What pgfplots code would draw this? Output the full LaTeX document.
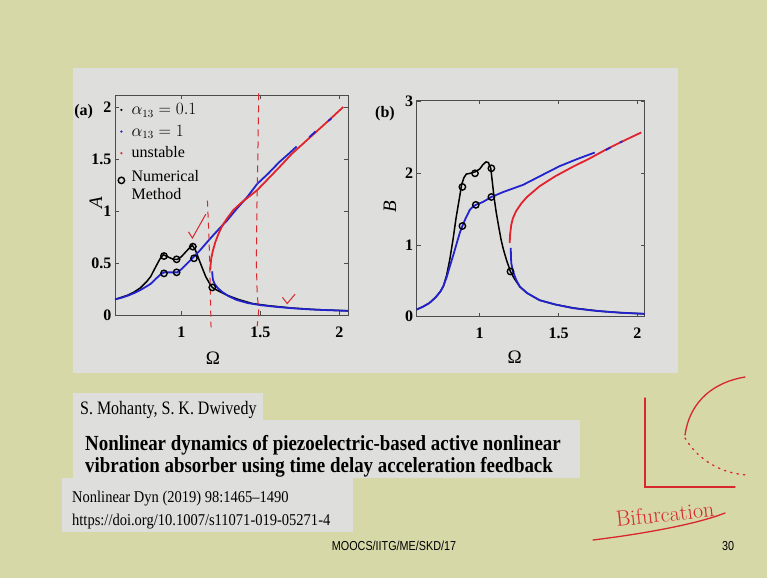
\documentclass[border=0pt]{standalone}
\usepackage{fontspec}
\setmainfont{Liberation Serif}
\newfontfamily\condserif[FakeStretch=0.88]{Liberation Serif}
\newfontfamily\authserif[FakeStretch=0.84]{Liberation Serif}
\newfontfamily\citeserif[FakeStretch=0.88]{Liberation Serif}
\newfontfamily\condsans[FakeStretch=0.83]{Liberation Sans}
\usepackage{pgfplots}
\pgfplotsset{compat=1.18}

\definecolor{slidebg}{RGB}{214,216,168}
\definecolor{panelgray}{RGB}{222,222,220}
\definecolor{curveblue}{RGB}{35,35,205}
\definecolor{curvered}{RGB}{225,35,45}
\definecolor{inkred}{RGB}{215,40,45}

\pgfplotsset{
  slideaxis/.style={
    scale only axis,
    axis line style={draw=black!70, line width=0.8pt},
    tick style={black!70, line width=0.8pt},
    major tick length=4pt,
    tick align=inside,
    tick pos=both,
    tick label style={font=\fontsize{16}{16}\selectfont\bfseries},
    xticklabel style={yshift=-8pt},
    /pgf/number format/assume math mode=true,
    label style={font=\fontsize{19}{19}\selectfont},
    clip=false,
  },
  blk/.style={black, line width=1.5pt, forget plot},
  blu/.style={curveblue, line width=1.8pt, forget plot},
  rd/.style={curvered, line width=1.8pt, forget plot},
  num/.style={only marks, mark=o, mark size=3.2pt, line width=1.4pt, black, forget plot},
}

\begin{document}
\begin{tikzpicture}[x=1pt,y=1pt]
\useasboundingbox (0,0) rectangle (767,578);
\fill[slidebg] (0,0) rectangle (767,578);
\fill[panelgray] (73,205) rectangle (678,510);
\fill[panelgray] (73,158) rectangle (263,185);
\fill[panelgray] (73,100) rectangle (580,158);
\fill[panelgray] (62,46) rectangle (353,100);

% ---------------- panel (a)
\begin{axis}[slideaxis,
  at={(115pt,263pt)}, anchor=south west,
  width=233pt, height=220pt,
  xmin=0.58, xmax=2.055, ymin=0, ymax=2.115,
  xtick={1,1.5,2}, ytick={0,0.5,1,1.5,2},
  xlabel={Ω}, ylabel={\textit{A}},
  xlabel style={at={(axis description cs:0.42,-0.195)}, anchor=center},
  ylabel style={at={(axis description cs:-0.082,0.51)}, anchor=center},
  legend style={draw=none, fill=none, at={(axis description cs:0.0,0.98)},
    anchor=north west, font=\fontsize{16}{18}\selectfont,
    row sep=5pt, column sep=5pt},
  legend cell align=left,
]
\addlegendimage{only marks, mark=*, mark size=0.9pt, black}
\addlegendentry{$\alpha_{13}=0.1$}
\addlegendimage{only marks, mark=*, mark size=0.9pt, curveblue}
\addlegendentry{$\alpha_{13}=1$}
\addlegendimage{only marks, mark=*, mark size=0.9pt, curvered}
\addlegendentry{unstable}
\addlegendimage{only marks, mark=o, mark size=3.2pt, line width=1.4pt, black}
\addlegendentry{\begin{tabular}{@{}l@{}}Numerical\\Method\end{tabular}}

% alpha13 = 0.1
\addplot[blk] coordinates {
 (0.58,0.15) (0.62,0.17) (0.66,0.19) (0.70,0.22) (0.74,0.26) (0.78,0.32)
 (0.806,0.37) (0.84,0.47) (0.865,0.54) (0.886,0.58) (0.92,0.555) (0.95,0.535)
 (0.975,0.535) (1.00,0.56) (1.03,0.61) (1.055,0.65) (1.07,0.67) (1.09,0.62)
 (1.12,0.50) (1.154,0.37) (1.18,0.30) (1.196,0.265) (1.23,0.235) (1.29,0.19)
 (1.36,0.15) (1.45,0.11) (1.55,0.09) (1.70,0.067) (1.85,0.052) (2.055,0.04)};
% alpha13 = 1, upper branch
\addplot[blu] coordinates {
 (0.58,0.15) (0.62,0.165) (0.66,0.185) (0.70,0.21) (0.74,0.24) (0.78,0.275)
 (0.806,0.30) (0.84,0.35) (0.865,0.385) (0.89,0.41) (0.93,0.41) (0.975,0.41)
 (1.00,0.44) (1.04,0.50) (1.07,0.545) (1.12,0.625) (1.18,0.73) (1.24,0.83)
 (1.29,0.91) (1.35,1.02) (1.42,1.14) (1.48,1.26) (1.55,1.36) (1.62,1.47)
 (1.68,1.55) (1.73,1.62)};
% unstable / jump branch
\addplot[rd] coordinates {
 (1.183,0.43) (1.185,0.48) (1.19,0.55) (1.20,0.62) (1.215,0.70) (1.235,0.78)
 (1.26,0.86) (1.29,0.93) (1.33,1.01) (1.38,1.08) (1.43,1.14) (1.48,1.20)
 (1.55,1.31) (1.62,1.42) (1.70,1.55) (1.78,1.66) (1.86,1.77) (1.94,1.88)
 (2.025,2.00)};
\addplot[blu] coordinates {(1.81,1.71) (1.85,1.765)};
\addplot[blu] coordinates {(1.93,1.865) (1.95,1.89)};
% lower branch
\addplot[blu] coordinates {
 (1.195,0.42) (1.197,0.38) (1.20,0.34) (1.21,0.30) (1.23,0.26) (1.26,0.22)
 (1.30,0.18) (1.35,0.145) (1.42,0.115) (1.50,0.095) (1.60,0.078) (1.70,0.065)
 (1.80,0.055) (1.90,0.048) (2.055,0.04)};
% numerical method
\addplot[num] coordinates {
 (0.89,0.567) (0.97,0.535) (1.073,0.657) (0.89,0.40) (0.97,0.41) (1.08,0.545)
 (1.196,0.265)};

% handwritten marks
\addplot[inkred, line width=1pt, dash pattern=on 7pt off 5pt, forget plot] coordinates {
 (1.49,2.13) (1.485,1.6) (1.478,1.0) (1.475,0.5) (1.48,0.2) (1.49,0.05) (1.48,-0.11)};
\addplot[inkred, line width=1pt, dash pattern=on 6pt off 5pt, forget plot] coordinates {
 (1.165,1.10) (1.175,0.75) (1.18,0.45) (1.185,0.1) (1.188,-0.12)};
\addplot[inkred, line width=1pt, forget plot] coordinates {(1.045,0.80) (1.07,0.74) (1.155,0.97)};
\addplot[inkred, line width=1pt, forget plot] coordinates {(1.64,0.17) (1.67,0.11) (1.72,0.20)};
\end{axis}

% ---------------- panel (b)
\begin{axis}[slideaxis,
  at={(416.7pt,261.3pt)}, anchor=south west,
  width=228pt, height=216.5pt,
  xmin=0.6, xmax=2.047, ymin=0, ymax=3.02,
  xtick={1,1.5,2}, ytick={0,1,2,3},
  xlabel={Ω}, ylabel={\textit{B}},
  xlabel style={at={(axis description cs:0.43,-0.186)}, anchor=center},
  ylabel style={at={(axis description cs:-0.117,0.506)}, anchor=center},
]
\addplot[blk] coordinates {
 (0.60,0.10) (0.64,0.14) (0.68,0.19) (0.72,0.27) (0.75,0.35) (0.77,0.43)
 (0.79,0.58) (0.81,0.80) (0.83,1.07) (0.85,1.38) (0.87,1.64) (0.885,1.84)
 (0.90,1.94) (0.915,1.99) (0.94,2.00) (0.97,2.02) (1.00,2.06) (1.02,2.12)
 (1.04,2.16) (1.055,2.15) (1.07,2.07) (1.08,1.88) (1.09,1.68) (1.105,1.45)
 (1.12,1.26) (1.135,1.08) (1.15,0.94) (1.17,0.79) (1.195,0.63) (1.22,0.53)
 (1.254,0.42) (1.30,0.33) (1.38,0.23) (1.48,0.17) (1.60,0.12) (1.75,0.08)
 (1.90,0.055) (2.047,0.04)};
\addplot[blu] coordinates {
 (0.60,0.10) (0.64,0.14) (0.68,0.19) (0.72,0.27) (0.75,0.35) (0.768,0.42)
 (0.79,0.55) (0.81,0.70) (0.835,0.88) (0.86,1.07) (0.875,1.18) (0.89,1.265)
 (0.91,1.37) (0.937,1.49) (0.96,1.54) (0.975,1.56) (1.02,1.60) (1.074,1.67)
 (1.15,1.74) (1.276,1.84) (1.40,1.98) (1.507,2.10) (1.62,2.20) (1.73,2.29)};
\addplot[rd] coordinates {
 (1.19,1.03) (1.193,1.15) (1.20,1.28) (1.21,1.37) (1.23,1.47) (1.264,1.58)
 (1.30,1.67) (1.38,1.82) (1.48,1.96) (1.59,2.09) (1.70,2.21) (1.80,2.33)
 (1.91,2.45) (2.025,2.57)};
\addplot[blu] coordinates {(1.80,2.325) (1.83,2.36)};
\addplot[blu] coordinates {(1.89,2.43) (1.905,2.445)};
\addplot[blu] coordinates {
 (1.197,0.96) (1.198,0.85) (1.20,0.75) (1.21,0.64) (1.23,0.52) (1.254,0.42)
 (1.30,0.33) (1.38,0.23) (1.48,0.17) (1.59,0.12) (1.70,0.09) (1.80,0.07)
 (1.90,0.055) (2.047,0.04)};
\addplot[num] coordinates {
 (0.89,1.81) (0.97,2.00) (1.074,2.07) (0.89,1.265) (0.975,1.56) (1.074,1.67)
 (1.195,0.63)};
\end{axis}

\node[font=\fontsize{16}{16}\selectfont\bfseries] at (83.7,466.3) {(a)};
\node[font=\fontsize{16}{16}\selectfont\bfseries] at (385,464.7) {(b)};

% reference text
\node[anchor=base west, inner sep=0pt, font=\authserif\fontsize{19}{19}\selectfont] at (80,163) {S. Mohanty, S. K. Dwivedy};
\node[anchor=base west, inner sep=0pt, font=\condserif\bfseries\fontsize{21.5}{21.5}\selectfont] at (85,128)
  {Nonlinear dynamics of piezoelectric-based active nonlinear};
\node[anchor=base west, inner sep=0pt, font=\condserif\bfseries\fontsize{21.5}{21.5}\selectfont] at (85,106)
  {vibration absorber using time delay acceleration feedback};
\node[anchor=base west, inner sep=0pt, font=\citeserif\fontsize{16.5}{16.5}\selectfont] at (72,76) {Nonlinear Dyn (2019) 98:1465–1490};
\node[anchor=base west, inner sep=0pt, font=\citeserif\fontsize{16.5}{16.5}\selectfont] at (72,53) {https://doi.org/10.1007/s11071-019-05271-4};

\node[font=\condsans\fontsize{13}{13}\selectfont] at (394,32) {MOOCS/IITG/ME/SKD/17};
\node[font=\condsans\fontsize{13}{13}\selectfont] at (728,32) {30};

% handwritten sketch
\draw[inkred, line width=1.3pt, line cap=round] (645,180) -- (645,91) -- (735,91);
\draw[inkred, line width=1.3pt, line cap=round] (685,143) .. controls (690,178) and (715,196) .. (745,201);
\draw[inkred, line width=1.3pt, dash pattern=on 1.5pt off 5pt, line cap=round] (685,140) .. controls (698,118) and (722,104) .. (748,103);
\node[inkred, rotate=6, font=\fontfamily{Liberation Sans}\itshape\fontsize{22}{22}\selectfont] at (665,64) {Bifurcation};
\draw[inkred, line width=1.3pt, line cap=round] (593,38) .. controls (650,45) and (700,55) .. (725,65);
\end{tikzpicture}
\end{document}
